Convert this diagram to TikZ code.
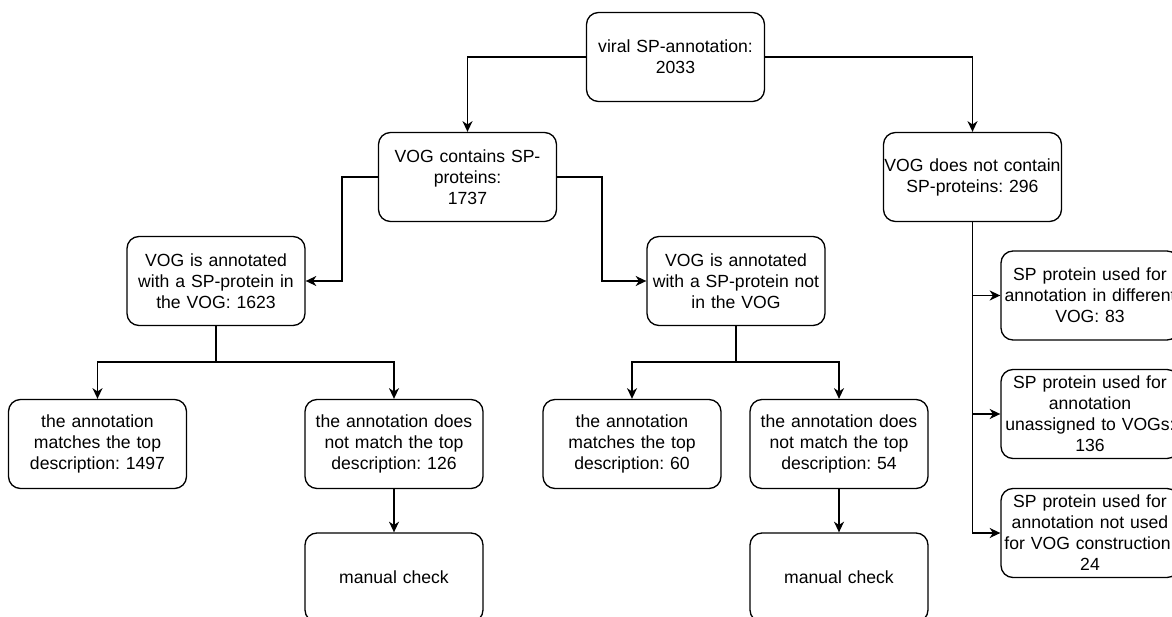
\documentclass[tikz,border=0pt]{standalone}
\usepackage{fontspec}
\setmainfont{Liberation Sans}
\usetikzlibrary{arrows.meta}
\frenchspacing

\begin{document}
\begin{tikzpicture}[x=0.75pt, y=-0.75pt,
        box/.style={draw=black, line width=1pt, rounded corners=9pt, minimum height=66.75pt,
                    text width=133.5pt, align=center, inner sep=0pt, font=\fontsize{13.2}{15.75}\selectfont},
        arr/.style={-{Stealth[length=8pt, width=7.5pt, inset=2.5pt]}, line width=1.1pt}]
        \useasboundingbox (0,0) rectangle (1172,617);
        \clip (0,0) rectangle (1172,617);
        \node[box] (root) at (675.5,57) {viral SP-annotation:\\2033};
        \node[box] (contains) at (467.5,177) {VOG contains SP-\\proteins:\\1737};
        \node[box] (nocontain) at (972.5,177) {VOG does not contain\\SP-proteins: 296};
        \node[box] (invog) at (216,281) {VOG is annotated\\with a SP-protein in\\the VOG: 1623};
        \node[box] (notinvog) at (736,281) {VOG is annotated\\with a SP-protein not\\in the VOG};
        \node[box] (matchA) at (97.5,444) {the annotation\\matches the top\\description: 1497};
        \node[box] (nomatchA) at (394,444) {the annotation does\\not match the top\\description: 126};
        \node[box] (checkA) at (394,577.5) {manual check};
        \node[box] (matchB) at (632,444) {the annotation\\matches the top\\description: 60};
        \node[box] (nomatchB) at (839,444) {the annotation does\\not match the top\\description: 54};
        \node[box] (checkB) at (839,577.5) {manual check};
        \node[box] (diffvog) at (1090,295.5) {SP protein used for\\annotation in different\\VOG: 83};
        \node[box] (unassigned) at (1090,414) {SP protein used for\\annotation\\unassigned to VOGs:\\136};
        \node[box] (notused) at (1090,533) {SP protein used for\\annotation not used\\for VOG construction:\\24};

        \draw[arr] (root.west) -| (contains.north);
        \draw[arr] (root.east) -| (nocontain.north);
        \draw[arr] (contains.west) -- ++(-36,0) |- (invog.east);
        \draw[arr] (contains.east) -- ++(45,0) |- (notinvog.west);
        \draw[arr] (invog.south) -- ++(0,36) -| (matchA.north);
        \draw[arr] (invog.south) -- ++(0,36) -| (nomatchA.north);
        \draw[arr] (notinvog.south) -- ++(0,36) -| (matchB.north);
        \draw[arr] (notinvog.south) -- ++(0,36) -| (nomatchB.north);
        \draw[arr] (nomatchA) -- (checkA);
        \draw[arr] (nomatchB) -- (checkB);
        \draw[arr] (nocontain.south) |- (diffvog.west);
        \draw[arr] (nocontain.south) |- (unassigned.west);
        \draw[arr] (nocontain.south) |- (notused.west);
\end{tikzpicture}
\end{document}
